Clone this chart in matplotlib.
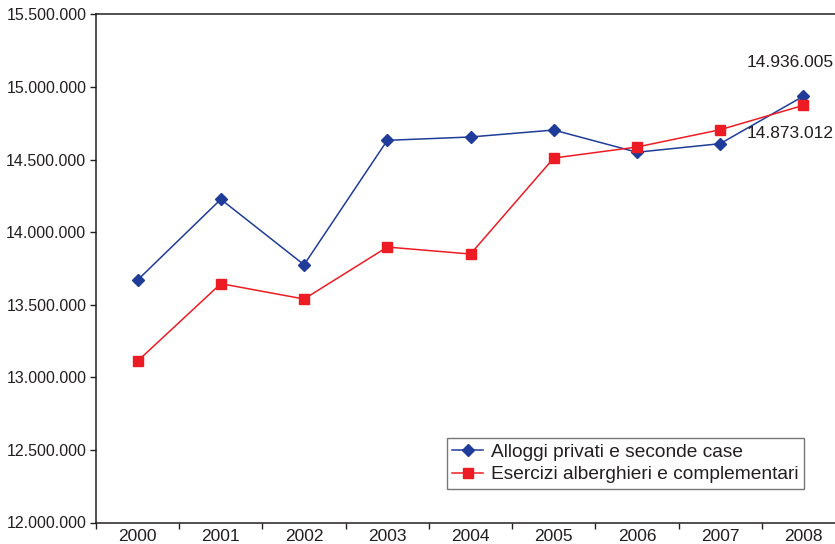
import matplotlib.pyplot as plt
from matplotlib.ticker import FixedLocator, FuncFormatter

plt.rcParams["font.family"] = ["Liberation Sans", "DejaVu Sans"]

years = ["2000", "2001", "2002", "2003", "2004", "2005", "2006", "2007", "2008"]
alloggi = [13670000, 14226000, 13775000, 14632000, 14655000, 14703000,
           14550000, 14609000, 14936005]
esercizi = [13112000, 13645000, 13539000, 13897000, 13849000, 14510000,
            14586000, 14705000, 14873012]
series_names = ["Alloggi privati e seconde case",
                "Esercizi alberghieri e complementari"]

TEXT = "#231f20"
BLUE = "#1f3c98"
RED = "#ed1c24"

fig = plt.figure(figsize=(8.35, 5.44), dpi=100)
# plot area runs slightly past the right edge of the picture, as in the reference
ax = fig.add_axes([96 / 835, 21.5 / 544, 749 / 835, 508.2 / 544])

x = list(range(len(years)))
ax.plot(x, alloggi, color=BLUE, linewidth=1.1, marker="D", markersize=6.5,
        label=series_names[0])
ax.plot(x, esercizi, color=RED, linewidth=1.1, marker="s", markersize=7,
        label=series_names[1])

ax.set_xlim(-0.5, len(years) - 0.5)
ax.set_ylim(12000000, 15500000)
ax.set_yticks(range(12000000, 15500001, 500000))
ax.yaxis.set_major_formatter(
    FuncFormatter(lambda v, p: f"{int(v):,}".replace(",", ".")))

# Excel-style category axis: ticks between categories, labels centred
ax.xaxis.set_major_locator(FixedLocator([i - 0.5 for i in range(len(years) + 1)]))
ax.xaxis.set_major_formatter(FuncFormatter(lambda v, p: ""))
ax.xaxis.set_minor_locator(FixedLocator(x))
ax.set_xticklabels(years, minor=True)
ax.tick_params(axis="x", which="minor", length=0, labelsize=12.5,
               colors=TEXT, pad=5)
ax.tick_params(axis="x", which="major", length=4, width=1, colors=TEXT)
ax.tick_params(axis="y", length=4, width=1, colors=TEXT, labelsize=11.5, pad=3)

for side in ["left", "bottom", "top", "right"]:
    ax.spines[side].set_color(TEXT)
    ax.spines[side].set_linewidth(1.1)

ax.annotate(f"{alloggi[-1]:,}".replace(",", "."), xy=(x[-1], alloggi[-1]),
            xytext=(22, 24), textcoords="offset points", ha="right",
            va="center", fontsize=12.5, color=TEXT)
ax.annotate(f"{esercizi[-1]:,}".replace(",", "."), xy=(x[-1], esercizi[-1]),
            xytext=(22, -20), textcoords="offset points", ha="right",
            va="center", fontsize=12.5, color=TEXT)

leg = ax.legend(loc="lower right", bbox_to_anchor=(804 / 835, 55 / 544),
                bbox_transform=fig.transFigure, borderaxespad=0,
                fancybox=False, frameon=True, fontsize=13.8,
                handlelength=1.6, handletextpad=0.4, borderpad=0.3,
                labelspacing=0.25)
leg.get_frame().set_edgecolor("#555555")
leg.get_frame().set_linewidth(1)
for t in leg.get_texts():
    t.set_color(TEXT)

fig.savefig("out.png", dpi=100)
